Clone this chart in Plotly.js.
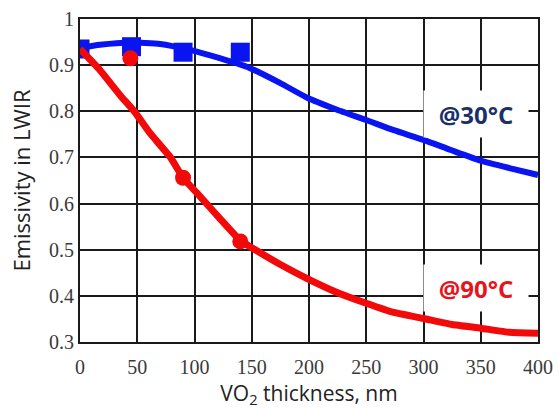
<!DOCTYPE html>
<html>
<head>
<meta charset="utf-8">
<script src="https://cdn.plot.ly/plotly-3.0.1.min.js"></script>
<style>html,body{margin:0;padding:0;background:#fff;}#chart{width:559px;height:409px;}</style>
</head>
<body>
<div id="chart"></div>
<script>
// Fitted curves
var blueCurveX = [0, 17.5, 44, 70, 96, 122, 148, 175, 198, 224, 250, 274, 300, 324, 350, 375, 400];
var blueCurveY = [0.937, 0.944, 0.949, 0.946, 0.933, 0.915, 0.894, 0.861, 0.830, 0.804, 0.781, 0.759, 0.738, 0.716, 0.693, 0.677, 0.662];
var redCurveX = [0, 17.5, 35, 48, 61, 79, 90, 105, 122, 140, 157, 175, 198, 224, 250, 274, 300, 325, 350, 375, 400];
var redCurveY = [0.935, 0.889, 0.835, 0.798, 0.753, 0.700, 0.656, 0.615, 0.568, 0.520, 0.494, 0.468, 0.438, 0.408, 0.384, 0.364, 0.351, 0.338, 0.330, 0.321, 0.319];
// Measured points
var blueMeasX = [0, 45, 90, 140];
var blueMeasY = [0.935, 0.940, 0.928, 0.928];
var redMeasX = [44, 90, 140];
var redMeasY = [0.915, 0.656, 0.518];
var xTicks = [0, 50, 100, 150, 200, 250, 300, 350, 400];
var yTicks = [0.3, 0.4, 0.5, 0.6, 0.7, 0.8, 0.9, 1];

var BLUE = '#0a14f0', RED = '#f20a0a';
var traces = [
  {x: blueCurveX, y: blueCurveY, mode: 'lines', line: {color: BLUE, width: 6, shape: 'spline', smoothing: 0.5}, hoverinfo: 'none'},
  {x: blueMeasX, y: blueMeasY, mode: 'markers', marker: {symbol: 'square', size: 19, color: BLUE}, hoverinfo: 'none'},
  {x: redCurveX, y: redCurveY, mode: 'lines', line: {color: RED, width: 7, shape: 'spline', smoothing: 0.4}, hoverinfo: 'none'},
  {x: redMeasX, y: redMeasY, mode: 'markers', marker: {symbol: 'circle', size: 16, color: RED}, hoverinfo: 'none'}
];

var tickFont = {family: 'Liberation Serif, serif', size: 20, color: '#3a3a3a'};
var layout = {
  width: 559, height: 409,
  margin: {l: 80, r: 21, t: 19, b: 67},
  paper_bgcolor: '#fff', plot_bgcolor: '#fff',
  showlegend: false,
  xaxis: {
    range: [0, 400], tickvals: xTicks, ticktext: xTicks.map(String),
    showgrid: true, gridcolor: '#1a1a1a', gridwidth: 2, zeroline: false,
    showline: true, mirror: true, linecolor: '#1a1a1a', linewidth: 2,
    ticks: '', tickfont: tickFont, ticklabelstandoff: 6,
    title: {text: 'VO<sub>2</sub> thickness, nm', font: {family: 'Open Sans, sans-serif', size: 21, color: '#222'}, standoff: 20}
  },
  yaxis: {
    range: [0.3, 1], tickvals: yTicks, ticktext: yTicks.map(String),
    showgrid: true, gridcolor: '#1a1a1a', gridwidth: 2, zeroline: false,
    showline: true, mirror: true, linecolor: '#1a1a1a', linewidth: 2,
    ticks: '', tickfont: tickFont,
    title: {text: 'Emissivity in LWIR', font: {family: 'Open Sans, sans-serif', size: 22, color: '#222'}, standoff: 12}
  },
  annotations: [
    {x: 346, y: 0.794, xref: 'x', yref: 'y', text: '<b>@30°C</b>', showarrow: false,
     font: {family: 'Open Sans, sans-serif', size: 24, color: '#1a2f6b'}, bgcolor: '#fff', width: 102, height: 44},
    {x: 346, y: 0.418, xref: 'x', yref: 'y', text: '<b>@90°C</b>', showarrow: false,
     font: {family: 'Open Sans, sans-serif', size: 24, color: '#e8141c'}, bgcolor: '#fff', width: 102, height: 44}
  ]
};
Plotly.newPlot('chart', traces, layout, {staticPlot: true});
</script>
</body>
</html>
